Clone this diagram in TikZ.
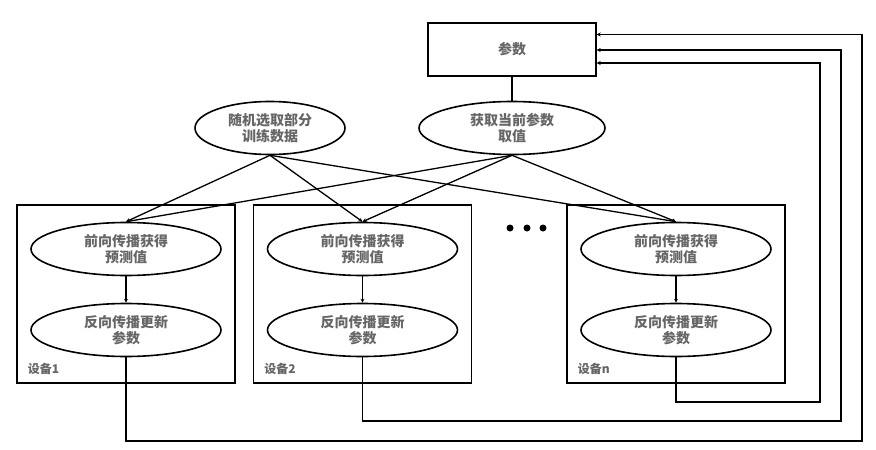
\documentclass[tikz,border=0pt]{standalone}
\usepackage{fontspec}
\setmainfont{Noto Sans CJK SC}
\usetikzlibrary{shapes.geometric,arrows.meta}
\begin{document}
\begin{tikzpicture}[x=1pt,y=-1pt,
  ell/.style={draw,line width=1.6pt,ellipse,minimum width=#1,minimum height=53pt,inner sep=0pt,align=center,font=\fontsize{14}{16}\selectfont\bfseries,text=black!60},
  ell/.default=190pt,
  dev/.style={draw,line width=1.4pt,minimum width=218pt,minimum height=178pt,inner sep=0pt},
  ln/.style={line width=1.3pt},
  arr/.style={ln,-{Stealth[length=4pt,width=4pt]}}]
\useasboundingbox (0,0) rectangle (876,450);
\node[draw,line width=1.4pt,minimum width=168pt,minimum height=53pt,font=\fontsize{14}{16}\selectfont\bfseries,text=black!60] (p) at (512,49.5) {参数};
\node[ell=186pt] (g) at (512,128) {获取当前参数\\取值};
\node[ell=150pt] (r) at (270,128) {随机选取部分\\训练数据};
\foreach \i/\x/\lab in {1/126/设备1,2/362.5/设备2,n/676/设备n}{
  \node[dev] (d\i) at (\x,294) {};
  \node[ell] (f\i) at (\x,249) {前向传播获得\\预测值};
  \node[ell] (b\i) at (\x,330) {反向传播更新\\参数};
  \node[anchor=south west,font=\fontsize{12}{13}\selectfont\bfseries,text=black!60] (l\i) at ([shift={(8pt,6pt)}]d\i.south west) {\lab};
  \draw[arr] (f\i) -- (b\i);
  \draw[arr] (r.south) -- (f\i.north);
  \draw[arr] (g.south) -- (f\i.north);
}
\draw[ln] (p) -- (g);
\foreach \x [count=\k] in {510,527,543} \fill (\x,228) circle (3.5pt) coordinate (dot\k);
\coordinate (c1) at (862,441); \coordinate (c2) at (841,421); \coordinate (cn) at (820,402);
\draw[arr] (b1.south) |- (c1) |- ([yshift=15pt]p.east);
\draw[arr] (b2.south) |- (c2) |- ([yshift=-0.5pt]p.east);
\draw[arr] (bn.south) |- (cn) |- ([yshift=-13.5pt]p.east);
\end{tikzpicture}
\end{document}
